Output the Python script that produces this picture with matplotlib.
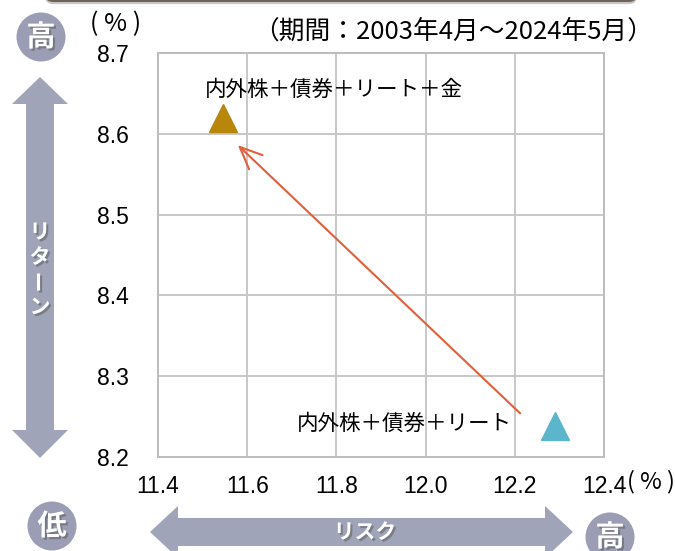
import matplotlib
matplotlib.use("Agg")
import matplotlib.pyplot as plt
import matplotlib.patheffects as pe
from matplotlib.patches import Polygon, Circle, FancyBboxPatch

plt.rcParams['font.family'] = ['Noto Sans CJK JP', 'DejaVu Sans']

# データ
portfolios = ["内外株＋債券＋リート", "内外株＋債券＋リート＋金"]
risk = [12.29, 11.545]
ret = [8.238, 8.619]
marker_colors = ["#5BB5CB", "#B8860B"]

x_ticks = [11.4, 11.6, 11.8, 12.0, 12.2, 12.4]
y_ticks = [8.2, 8.3, 8.4, 8.5, 8.6, 8.7]
period = "（期間：2003年4月～2024年5月）"

W, H = 675, 551
fig = plt.figure(figsize=(W / 100, H / 100), dpi=100)

# メインの散布図
ax = fig.add_axes([158 / W, 1 - 457 / H, 446 / W, 404 / H])
ax.set_xlim(11.4, 12.4)
ax.set_ylim(8.2, 8.7)
ax.set_xticks(x_ticks)
ax.set_yticks(y_ticks)
ax.set_xticklabels([f"{v:.1f}" for v in x_ticks])
ax.set_yticklabels([f"{v:.1f}" for v in y_ticks])
ax.tick_params(length=0, labelsize=16.5)
ax.tick_params(axis="y", pad=21)
ax.tick_params(axis="x", pad=13)
for lab in ax.get_xticklabels() + ax.get_yticklabels():
    lab.set_family(["Liberation Sans", "DejaVu Sans"])
ax.grid(True, color="#C8C8C8", lw=1.4)
ax.set_axisbelow(True)
for s in ax.spines.values():
    s.set_color("#BDBDBD")
    s.set_linewidth(1.4)

for x, y, c in zip(risk, ret, marker_colors):
    ax.plot(x, y, marker="^", ms=20, color=c, ls="none", zorder=3)

# ラベル
ax.text(11.795, 8.654, portfolios[1], fontsize=15.5, ha="center", va="center")
ax.text(11.952, 8.241, portfolios[0], fontsize=15.5, ha="center", va="center")

# 矢印（リートのみ -> 金を追加）
ax.annotate("", xy=(11.579, 8.586), xytext=(12.212, 8.254),
            arrowprops=dict(arrowstyle="->,head_length=0.8,head_width=0.35",
                            color="#E0603C", lw=1.5, shrinkA=0, shrinkB=0,
                            mutation_scale=20))

# 装飾用のオーバーレイ（ピクセル座標）
ov = fig.add_axes([0, 0, 1, 1], zorder=-1)
ov.set_xlim(0, W)
ov.set_ylim(H, 0)
ov.set_axis_off()

gray = "#A0A4B8"
shadow = [pe.withSimplePatchShadow(offset=(1.5, -1.5), shadow_rgbFace="#555555", alpha=0.5)]

# 上部のバー
bar = FancyBboxPatch((45, -30), 592, 32, boxstyle="round,pad=0,rounding_size=8",
                     fc="#6E635A", ec="none", path_effects=[pe.withSimplePatchShadow(offset=(0, -1.5), alpha=0.25)])
ov.add_patch(bar)

# 縦の矢印（リターン）、縦書きなので「ー」は回転
vx = 40
ov.add_patch(Polygon([(vx, 77), (vx + 28, 104), (vx + 14, 104), (vx + 14, 430), (vx + 28, 430),
                      (vx, 458), (vx - 28, 430), (vx - 14, 430), (vx - 14, 104), (vx - 28, 104)],
                     closed=True, fc=gray, ec="none"))
for i, (ch, rot) in enumerate([("リ", 0), ("タ", 0), ("ー", 90), ("ン", 0)]):
    ov.text(vx, 232 + i * 25, ch, color="white", fontsize=15, fontweight="bold",
            ha="center", va="center", rotation=rot, path_effects=shadow)

# 横の矢印（リスク）
hy = 532
ov.add_patch(Polygon([(150, hy), (178, hy - 26), (178, hy - 14), (545, hy - 14), (545, hy - 26),
                      (573, hy), (545, hy + 26), (545, hy + 14), (178, hy + 14), (178, hy + 26)],
                     closed=True, fc=gray, ec="none"))
ov.text(365, hy, "リスク", color="white", fontsize=15, fontweight="bold",
        ha="center", va="center", path_effects=shadow)

# 高・低の丸
for cx, cy, t in [(41, 37, "高"), (52, 526, "低"), (610, 537, "高")]:
    ov.add_patch(Circle((cx, cy), 24.5, fc="#9A9DB3", ec="none"))
    ov.text(cx, cy, t, color="white", fontsize=21, fontweight="bold",
            ha="center", va="center", path_effects=shadow)

# 単位と期間
ov.text(116, 24, "( % )", fontsize=18, ha="center", va="center")
ov.text(651, 482, "( % )", fontsize=17, ha="center", va="center")
ov.text(653, 32, period, fontsize=18.5, ha="right", va="center")

fig.savefig("out.png", dpi=100)
